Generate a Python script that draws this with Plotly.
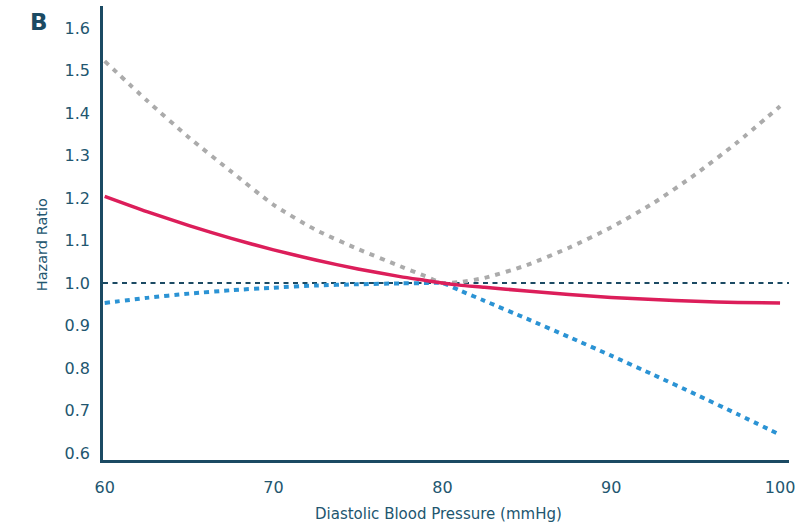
import plotly.graph_objects as go

dbp = [60, 62.5, 65, 67.5, 70, 72.5, 75, 77.5, 79, 80, 81, 82.5, 85, 87.5, 90, 92.5, 95, 97.5, 100]
hr_main = [1.204, 1.168, 1.135, 1.105, 1.078, 1.054, 1.033, 1.015, 1.006, 1.0, 0.995, 0.990, 0.981, 0.973, 0.966, 0.961, 0.957, 0.954, 0.953]
hr_upper = [1.522, 1.4295, 1.342, 1.262, 1.184, 1.125, 1.080, 1.0395, 1.016, 1.0, 1.002, 1.012, 1.042, 1.083, 1.131, 1.188, 1.256, 1.332, 1.416]
hr_lower = [0.953, 0.965, 0.975, 0.983, 0.989, 0.994, 0.997, 0.999, 0.9998, 1.0, 0.983, 0.958, 0.916, 0.873, 0.829, 0.784, 0.738, 0.691, 0.643]
x_ticks = [60, 70, 80, 90, 100]
y_ticks = [0.6, 0.7, 0.8, 0.9, 1.0, 1.1, 1.2, 1.3, 1.4, 1.5, 1.6]
reference_hr = 1.0

navy = "#1B4A63"
text_col = "#22566F"
font_family = "DejaVu Sans"

fig = go.Figure()
fig.add_hline(y=reference_hr, line=dict(color=navy, width=2, dash="5px,4.5px"), layer="below")
fig.add_trace(go.Scatter(x=dbp, y=hr_upper, mode="lines",
                         line=dict(color="#ABABAB", width=4, dash="5px,6px", shape="spline", smoothing=0.6),
                         hoverinfo="skip"))
fig.add_trace(go.Scatter(x=dbp, y=hr_lower, mode="lines",
                         line=dict(color="#2B93D4", width=4, dash="5px,5px", shape="spline", smoothing=0.6),
                         hoverinfo="skip"))
fig.add_trace(go.Scatter(x=dbp, y=hr_main, mode="lines",
                         line=dict(color="#DC1E5A", width=3.5, shape="spline", smoothing=0.6),
                         hoverinfo="skip"))

fig.update_layout(
    width=807, height=522,
    margin=dict(l=103, r=18, t=6, b=62),
    paper_bgcolor="white", plot_bgcolor="white",
    showlegend=False,
    font=dict(family=font_family, color=text_col),
    xaxis=dict(range=[59.9, 100.53], tickvals=x_ticks, ticktext=[str(v) for v in x_ticks],
               showgrid=False, zeroline=False, showline=True, linecolor=navy, linewidth=2.5,
               ticks="", ticklabelstandoff=11, tickfont=dict(size=16, color=text_col)),
    yaxis=dict(range=[0.5835, 1.6518], tickvals=y_ticks, ticktext=[f"{v:.1f}" for v in y_ticks],
               showgrid=False, zeroline=False, showline=True, linecolor=navy, linewidth=2.5,
               ticks="", ticklabelstandoff=7, tickfont=dict(size=16, color=text_col)),
    annotations=[
        dict(text="B", xref="paper", yref="paper", x=-0.0933, y=1.0, xanchor="center", yanchor="middle",
             yshift=-16, showarrow=False, font=dict(size=23, color=navy, family=font_family, weight=600)),
        dict(text="Hazard Ratio", xref="paper", yref="y", x=0, y=1.089, xshift=-61, textangle=-90,
             xanchor="center", yanchor="middle", showarrow=False, font=dict(size=14.5, color=text_col)),
        dict(text="Diastolic Blood Pressure (mmHg)", xref="x", yref="paper", x=79.8, y=0, yshift=-54,
             xanchor="center", yanchor="middle", showarrow=False, font=dict(size=15, color=text_col)),
    ],
)

fig.write_html("out.html", config={"displayModeBar": False},
               post_script="document.body.style.margin='0';document.documentElement.style.overflow='hidden';")
